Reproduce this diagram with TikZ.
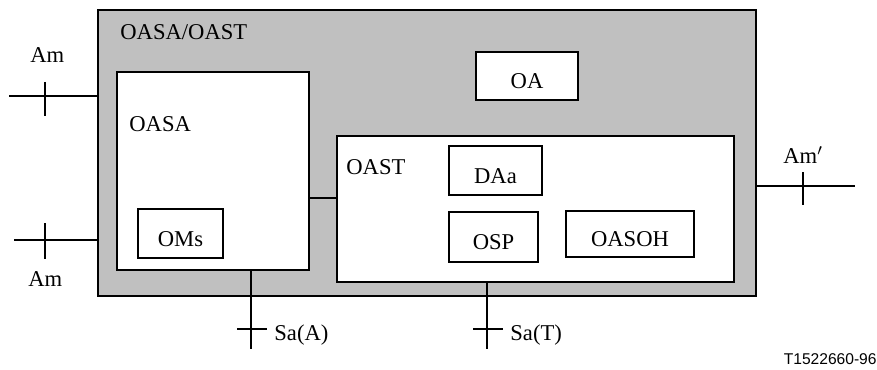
\documentclass[tikz,border=0pt]{standalone}
\usepackage{fontspec}
\setmainfont{Liberation Serif}
\setsansfont{Liberation Sans}
\usepackage{xcolor}
\usepackage{tikz}
\definecolor{boxgray}{RGB}{192,192,192}
\tikzset{
  blockbox/.style={draw, fill=white, line width=0.6pt, inner sep=0pt, text height=12.5pt, text depth=0pt},
  lbl/.style={inner sep=0pt, anchor=base west, font=\fontsize{11.3}{13}\selectfont},
  wire/.style={line width=0.6pt}
}
\begin{document}
\begin{tikzpicture}[x=0.5pt, y=-0.5pt, font=\fontsize{11.3}{13}\selectfont]
    \useasboundingbox (0,0) rectangle (877,369);

    % Outer box
    \node[draw, fill=boxgray, line width=0.8pt, minimum width=329pt, minimum height=143pt, inner sep=0pt] (outer) at (427,153) {};
    \node[lbl] (outerlbl) at (120,40) {OASA/OAST};

    % OASA part
    \node[blockbox, minimum width=96pt, minimum height=99pt] (oasa) at (213,171) {};
    \node[lbl] (oasalbl) at (129,132) {OASA};
    \node[blockbox, minimum width=42.5pt, minimum height=24.5pt] (oms) at (180.5,233.5) {OMs};

    % OA
    \node[blockbox, minimum width=51pt, minimum height=24pt] (oa) at (527,76) {OA};

    % OAST part
    \node[blockbox, minimum width=198.5pt, minimum height=73pt] (oast) at (535.5,209) {};
    \node[lbl] (oastlbl) at (346,174) {OAST};
    \node[blockbox, minimum width=46.5pt, minimum height=24.5pt] (daa) at (495.5,170.5) {DAa};
    \node[blockbox, minimum width=44.5pt, minimum height=25pt] (osp) at (493.5,237) {OSP};
    \node[blockbox, minimum width=64pt, minimum height=23pt] (oasoh) at (630,234) {OASOH};

    % Link between OASA and OAST
    \coordinate (link) at (323,198);
    \draw[wire] (link -| oasa.east) -- (link -| oast.west);

    % Am interfaces on the left
    \coordinate (amtop) at (9,96);
    \draw[wire] (amtop) -- (amtop -| outer.west);
    \draw[wire] (45,82) -- (45,116);
    \node[lbl] (amtoplbl) at (30,63) {Am};

    \coordinate (ambot) at (14,240);
    \draw[wire] (ambot) -- (ambot -| outer.west);
    \draw[wire] (45,223) -- (45,259);
    \node[lbl] (ambotlbl) at (28,286) {Am};

    % Am' interface on the right
    \coordinate (amright) at (855,186);
    \draw[wire] (amright -| outer.east) -- (amright);
    \draw[wire] (803,172) -- (803,205);
    \node[lbl] (amrightlbl) at (783,163) {Am$'$};

    % Sa interfaces at the bottom
    \coordinate (saa) at (251,349);
    \draw[wire] (saa |- oasa.south) -- (saa);
    \draw[wire] (237,329) -- (267,329);
    \node[lbl] (saalbl) at (274,340) {Sa(A)};

    \coordinate (sat) at (487,349);
    \draw[wire] (sat |- oast.south) -- (sat);
    \draw[wire] (473,329) -- (503,329);
    \node[lbl] (satlbl) at (510,340) {Sa(T)};

    % Figure number
    \node[inner sep=0pt, anchor=base east, font=\sffamily\fontsize{7.8}{9}\selectfont] (fignum) at (877,364) {T1522660-96};
\end{tikzpicture}
\end{document}
